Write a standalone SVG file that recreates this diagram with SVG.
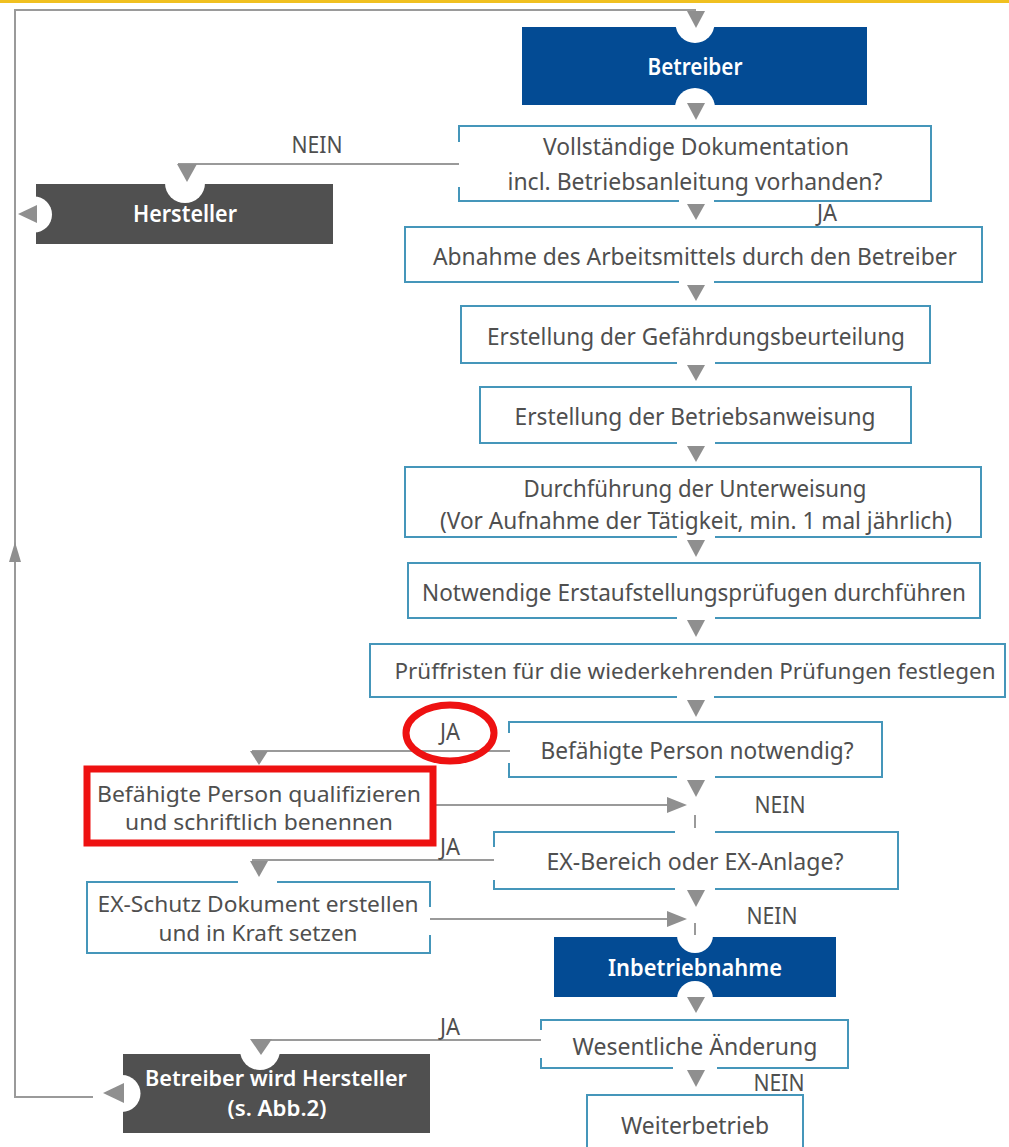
<svg xmlns="http://www.w3.org/2000/svg" width="1009" height="1147" viewBox="0 0 1009 1147">
  <style>
    .box { fill: #ffffff; stroke: #4596ba; stroke-width: 2; }
    .gap { fill: #ffffff; }
    .blue { fill: #034b94; }
    .dark { fill: #505050; }
    .notch { fill: #ffffff; }
    .tri { fill: #8f8f8f; }
    .ln { stroke: #9a9a9a; stroke-width: 2; fill: none; }
    .t { font-family: "Noto Sans", "Liberation Sans", sans-serif; font-size: 24px; fill: #4f4f4f; text-anchor: middle; }
    .s { font-size: 22px; }
    .w { fill: #ffffff; font-weight: 600; }
    .mark { fill: none; stroke: #ee1111; stroke-width: 7; }
  </style>

  <rect width="1009" height="1147" fill="#ffffff"/>
  <!-- header rule -->
  <rect x="0" y="0" width="1009" height="3" fill="#f0c020"/>

  <!-- process nodes -->
  <g id="betreiber">
    <rect class="blue" x="522" y="27" width="345" height="78"/>
    <circle class="notch" cx="695" cy="23.5" r="19.5"/>
    <circle class="notch" cx="695" cy="108" r="20"/>
    <text class="t w" x="695" y="75" textLength="95" lengthAdjust="spacingAndGlyphs">Betreiber</text>
  </g>

  <g id="dokumentation">
    <rect class="box" x="459" y="126" width="472" height="75"/>
    <rect class="gap" x="679" y="198" width="35" height="6"/>
    <rect class="gap" x="456" y="142" width="6" height="45"/>
    <text class="t" x="696" y="155" textLength="306" lengthAdjust="spacingAndGlyphs">Vollständige Dokumentation</text>
    <text class="t" x="695" y="190" textLength="375" lengthAdjust="spacingAndGlyphs">incl. Betriebsanleitung vorhanden?</text>
  </g>

  <g id="hersteller">
    <rect class="dark" x="36" y="184" width="297" height="60"/>
    <circle class="notch" cx="185" cy="183" r="20"/>
    <circle class="notch" cx="34" cy="214.5" r="18"/>
    <text class="t w" x="185" y="222" textLength="104" lengthAdjust="spacingAndGlyphs">Hersteller</text>
  </g>

  <g id="abnahme">
    <rect class="box" x="405" y="227" width="577" height="55"/>
    <rect class="gap" x="679" y="279" width="35" height="6"/>
    <text class="t" x="695" y="265" textLength="524" lengthAdjust="spacingAndGlyphs">Abnahme des Arbeitsmittels durch den Betreiber</text>
  </g>

  <g id="gefaehrdungsbeurteilung">
    <rect class="box" x="461" y="306" width="469" height="57"/>
    <rect class="gap" x="677" y="360" width="38" height="6"/>
    <text class="t" x="696" y="345" textLength="418" lengthAdjust="spacingAndGlyphs">Erstellung der Gefährdungsbeurteilung</text>
  </g>

  <g id="betriebsanweisung">
    <rect class="box" x="480" y="387" width="431" height="56"/>
    <rect class="gap" x="677" y="440" width="38" height="6"/>
    <text class="t" x="695" y="425" textLength="361" lengthAdjust="spacingAndGlyphs">Erstellung der Betriebsanweisung</text>
  </g>

  <g id="unterweisung">
    <rect class="box" x="405" y="467" width="576" height="70"/>
    <rect class="gap" x="677" y="534" width="38" height="6"/>
    <text class="t" x="695" y="497" textLength="343" lengthAdjust="spacingAndGlyphs">Durchführung der Unterweisung</text>
    <text class="t" x="696" y="529" textLength="512" lengthAdjust="spacingAndGlyphs">(Vor Aufnahme der Tätigkeit, min. 1 mal jährlich)</text>
  </g>

  <g id="erstaufstellung">
    <rect class="box" x="408" y="563" width="572" height="55"/>
    <rect class="gap" x="677" y="615" width="38" height="6"/>
    <text class="t" x="694" y="601" textLength="544" lengthAdjust="spacingAndGlyphs">Notwendige Erstaufstellungsprüfugen durchführen</text>
  </g>

  <g id="prueffristen">
    <rect class="box" x="370" y="644" width="635" height="53"/>
    <rect class="gap" x="677" y="694" width="37" height="6"/>
    <text class="t s" x="695" y="679" textLength="601" lengthAdjust="spacingAndGlyphs">Prüffristen für die wiederkehrenden Prüfungen festlegen</text>
  </g>

  <g id="befaehigte-person-frage">
    <rect class="box" x="509" y="722" width="373" height="55"/>
    <rect class="gap" x="677" y="774" width="38" height="6"/>
    <rect class="gap" x="506" y="733" width="6" height="30"/>
    <text class="t" x="697" y="759" textLength="313" lengthAdjust="spacingAndGlyphs">Befähigte Person notwendig?</text>
  </g>

  <g id="befaehigte-person-benennen">
    <rect class="box" x="87" y="769" width="346" height="74"/>
    <text class="t s" x="259" y="802" textLength="324" lengthAdjust="spacingAndGlyphs">Befähigte Person qualifizieren</text>
    <text class="t s" x="259" y="830" textLength="268" lengthAdjust="spacingAndGlyphs">und schriftlich benennen</text>
  </g>

  <g id="ex-frage">
    <rect class="box" x="494" y="832" width="404" height="57"/>
    <rect class="gap" x="675" y="829" width="40" height="6"/>
    <rect class="gap" x="675" y="886" width="40" height="6"/>
    <rect class="gap" x="491" y="847" width="6" height="33"/>
    <text class="t" x="695" y="870" textLength="297" lengthAdjust="spacingAndGlyphs">EX-Bereich oder EX-Anlage?</text>
  </g>

  <g id="ex-schutz-dokument">
    <rect class="box" x="87" y="882" width="343" height="71"/>
    <rect class="gap" x="238" y="879" width="39" height="6"/>
    <rect class="gap" x="427" y="907" width="6" height="28"/>
    <text class="t s" x="258" y="912" textLength="321" lengthAdjust="spacingAndGlyphs">EX-Schutz Dokument erstellen</text>
    <text class="t s" x="258" y="941" textLength="199" lengthAdjust="spacingAndGlyphs">und in Kraft setzen</text>
  </g>

  <g id="inbetriebnahme">
    <rect class="blue" x="554" y="937" width="282" height="60"/>
    <circle class="notch" cx="695" cy="935" r="18"/>
    <circle class="notch" cx="695" cy="999" r="18"/>
    <text class="t w" x="695" y="976" textLength="174" lengthAdjust="spacingAndGlyphs">Inbetriebnahme</text>
  </g>

  <g id="wesentliche-aenderung">
    <rect class="box" x="541" y="1020" width="307" height="48"/>
    <rect class="gap" x="673" y="1065" width="44" height="6"/>
    <rect class="gap" x="538" y="1030" width="6" height="28"/>
    <text class="t" x="695" y="1055" textLength="245" lengthAdjust="spacingAndGlyphs">Wesentliche Änderung</text>
  </g>

  <g id="betreiber-wird-hersteller">
    <rect class="dark" x="123" y="1054" width="307" height="79"/>
    <circle class="notch" cx="260" cy="1050" r="20"/>
    <circle class="notch" cx="122" cy="1093.5" r="18.5"/>
    <text class="t s w" x="276" y="1086" textLength="262" lengthAdjust="spacingAndGlyphs">Betreiber wird Hersteller</text>
    <text class="t s w" x="277" y="1116" textLength="99" lengthAdjust="spacingAndGlyphs">(s. Abb.2)</text>
  </g>

  <g id="weiterbetrieb">
    <rect class="box" x="587" y="1095" width="216" height="70"/>
    <text class="t" x="695" y="1134" textLength="148" lengthAdjust="spacingAndGlyphs">Weiterbetrieb</text>
  </g>

  <!-- connectors -->
  <g id="connectors">
    <path class="ln" d="M696,10 H15 V1097 H93"/>
    <path class="ln" d="M459,164 H178"/>
    <path class="ln" d="M510,751 H252"/>
    <path class="ln" d="M433,805 H669"/>
    <path class="ln" d="M494,860 H252"/>
    <path class="ln" d="M430,919 H669"/>
    <path class="ln" d="M541,1040 H252"/>
    <path class="ln" d="M695,815 V828"/>
    <path class="ln" d="M695,923 V935"/>

    <!-- arrowheads along the main column -->
    <polygon class="tri" points="687,11 705,11 696,28"/>
    <polygon class="tri" points="687,103 705,103 696,120"/>
    <polygon class="tri" points="687,204 705,204 696,220"/>
    <polygon class="tri" points="687,285 705,285 696,301"/>
    <polygon class="tri" points="687,365 705,365 696,381"/>
    <polygon class="tri" points="687,446 705,446 696,462"/>
    <polygon class="tri" points="687,540 705,540 696,557"/>
    <polygon class="tri" points="687,620 705,620 696,637"/>
    <polygon class="tri" points="687,700 705,700 696,717"/>
    <polygon class="tri" points="687,780 705,780 696,797"/>
    <polygon class="tri" points="687,890 705,890 696,907"/>
    <polygon class="tri" points="687,997 705,997 696,1013"/>
    <polygon class="tri" points="687,1070 705,1070 696,1087"/>
    <polygon class="tri" points="667,797 687,805 667,813"/>
    <polygon class="tri" points="667,911 687,919 667,927"/>

    <!-- arrowheads on the left branches -->
    <polygon class="tri" points="177,164 197,164 187,182"/>
    <polygon class="tri" points="37,205 37,223 18,214"/>
    <polygon class="tri" points="250,751 268,751 259,765"/>
    <polygon class="tri" points="250,861 268,861 259,877"/>
    <polygon class="tri" points="250,1039 272,1039 261,1055"/>
    <polygon class="tri" points="124,1083 124,1103 103,1093"/>
    <polygon class="tri" points="15,542 21,562 9,562"/>

    <!-- branch labels -->
    <text class="t" x="317" y="153" textLength="51" lengthAdjust="spacingAndGlyphs">NEIN</text>
    <text class="t" x="827" y="221" textLength="20" lengthAdjust="spacingAndGlyphs">JA</text>
    <text class="t" x="450" y="740" textLength="20" lengthAdjust="spacingAndGlyphs">JA</text>
    <text class="t" x="780" y="813" textLength="51" lengthAdjust="spacingAndGlyphs">NEIN</text>
    <text class="t" x="450" y="855" textLength="20" lengthAdjust="spacingAndGlyphs">JA</text>
    <text class="t" x="772" y="924" textLength="51" lengthAdjust="spacingAndGlyphs">NEIN</text>
    <text class="t" x="450" y="1035" textLength="20" lengthAdjust="spacingAndGlyphs">JA</text>
    <text class="t" x="779" y="1091" textLength="51" lengthAdjust="spacingAndGlyphs">NEIN</text>
  </g>

  <!-- highlight marks -->
  <g id="highlights">
    <ellipse class="mark" cx="450" cy="733" rx="44" ry="28"/>
    <rect class="mark" x="87" y="769" width="346" height="74"/>
  </g>
</svg>
